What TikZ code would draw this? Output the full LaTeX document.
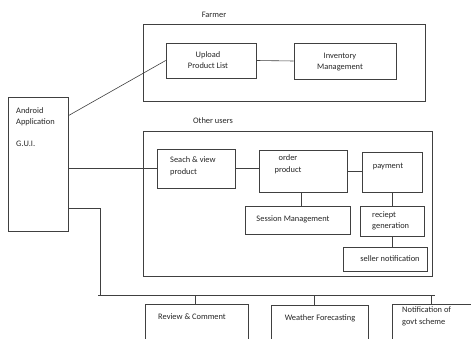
\documentclass[tikz,border=0pt]{standalone}
\usepackage{fontspec}
\setmainfont{Carlito}
\tikzset{
  box/.style={draw=black!75, line width=0.6pt, inner sep=0pt},
  txt/.style={text=black!85, font=\fontsize{8.4}{11.5}\selectfont, inner sep=0pt},
  link/.style={draw=black!75, line width=0.6pt}
}

\begin{document}
\begin{tikzpicture}[x=1pt,y=-1pt]
        \clip (0,0) rectangle (471,339);
        \fill[white] (0,0) rectangle (471,339);
        % frames
        \node[box, minimum width=282, minimum height=77] (farmer) at (284,62.5) {};
        \node[txt] (farmerlbl) at (214,15) {Farmer};
        \node[box, minimum width=289, minimum height=145] (others) at (287.5,203.5) {};
        \node[txt] (otherslbl) at (213,121) {Other users};
        % boxes
        \node[box, minimum width=60, minimum height=134] (android) at (38,164) {};
        \node[txt, anchor=north west, align=left] (androidtxt) at (16,107) {Android\\Application\\[10pt]G.U.I.};
        \node[box, minimum width=90, minimum height=35] (upload) at (211,60.5) {};
        \node[txt, align=center] (uploadtxt) at (208,60) {Upload\\Product List};
        \node[box, minimum width=102, minimum height=36] (inventory) at (345,61) {};
        \node[txt, align=center] (inventorytxt) at (340,62) {Inventory\\Management};
        \node[box, minimum width=78, minimum height=39] (seach) at (196,168.5) {};
        \node[txt, anchor=west, align=left] (seachtxt) at (170,166.5) {Seach \& view\\product};
        \node[box, minimum width=88, minimum height=42] (order) at (303,171) {};
        \node[txt, align=center] (ordertxt) at (288,164.5) {order\\product};
        \node[box, minimum width=60, minimum height=40] (payment) at (392,172) {};
        \node[txt] (paymenttxt) at (388,166.5) {payment};
        \node[box, minimum width=105, minimum height=28] (session) at (297.5,220) {};
        \node[txt] (sessiontxt) at (293,219) {Session Management};
        \node[box, minimum width=64, minimum height=30] (reciept) at (392,221) {};
        \node[txt, anchor=west, align=left] (reciepttxt) at (372,221) {reciept\\generation};
        \node[box, minimum width=84, minimum height=24] (seller) at (385,259) {};
        \node[txt] (sellertxt) at (390,259) {seller notification};
        \node[box, minimum width=103, minimum height=56] (review) at (196.5,332) {};
        \node[txt] (reviewtxt) at (192,317) {Review \& Comment};
        \node[box, minimum width=97, minimum height=55] (weather) at (319.5,332.5) {};
        \node[txt] (weathertxt) at (320,318) {Weather Forecasting};
        \node[box, minimum width=80, minimum height=56] (notif) at (432,332) {};
        \node[txt, anchor=west, align=left] (notiftxt) at (402,316.5) {Notification of\\govt scheme};
        % bus
        \coordinate (busL) at (98,295);
        \coordinate (busR) at (435,295);
        \coordinate (bend) at (100,208);
        % edges
        \draw[link] ([yshift=-19pt]android.north east) -- (upload.west);
        \draw[link] (upload.east) -- (inventory.west);
        \draw[link] (seach.west) -- (seach.west -| android.east);
        \draw[link] (seach.east) -- (seach.east -| order.west);
        \draw[link] (order.east) -- (order.east -| payment.west);
        \draw[link] ([xshift=-2pt]order.south) -- ([xshift=-2pt]order.south |- session.north);
        \draw[link] (payment.south) -- (reciept.north);
        \draw[link] (reciept.south) -- (reciept.south |- seller.north);
        \draw[link] (android.east |- bend) -- (bend) -- (bend |- busL);
        \draw[link] (busL) -- (busR);
        \draw[link] ([xshift=-1.5pt]review.north) -- ([xshift=-1.5pt]review.north |- busL);
        \draw[link] ([xshift=-5.5pt]weather.north) -- ([xshift=-5.5pt]weather.north |- busL);
        \draw[link] ([xshift=-1pt]notif.north) -- ([xshift=-1pt]notif.north |- busL);
      \end{tikzpicture}
\end{document}
